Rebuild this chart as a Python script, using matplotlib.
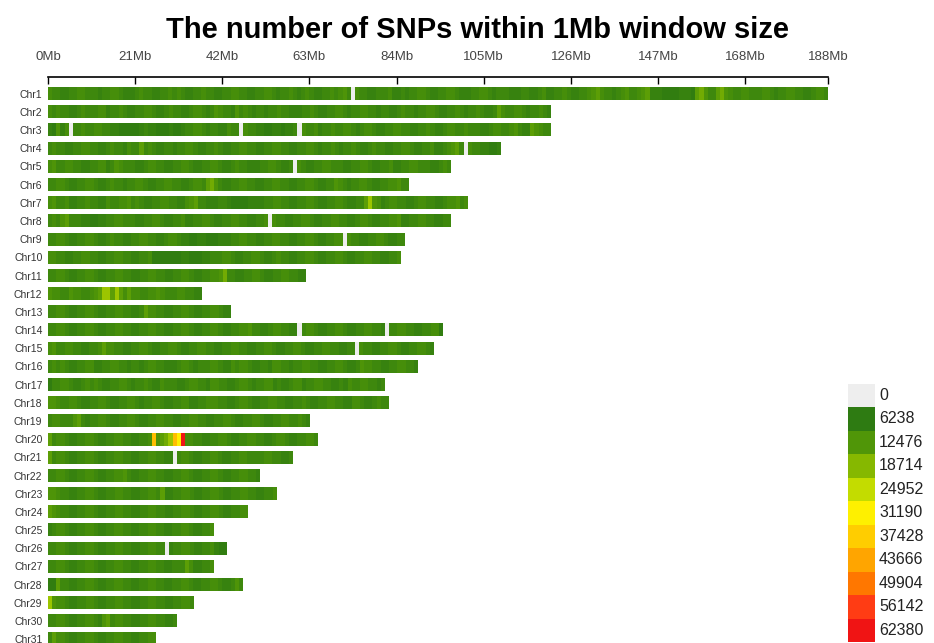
import numpy as np
import matplotlib.pyplot as plt
from matplotlib.colors import LinearSegmentedColormap, Normalize

plt.rcParams['font.family'] = ['Liberation Sans', 'DejaVu Sans']

chrom_names = ['Chr%d' % i for i in range(1, 32)]

# SNP count per class; one character per 1Mb window ('0' = no SNPs)
level_codes = '0123456789ABC'
level_snps = [0, 7000, 8200, 9500, 10800, 12300, 14000, 16500, 21000,
              31190, 40000, 50000, 62000]

window_levels = [
    "4332233443 3323344322 2343322334 3432233433 2233443322 3344323343 2343223343 4530433223 3342232334 4322334432 "
    "2233443233 3222332234 2233432233 4564332345 3345622211 1122216753 3675433443 3344323344 33223443",
    "4343322343 3344233432 2334432234 3322344323 5433253432 3323343322 2334322334 4323344332 3322343323 3443223343 "
    "2334322364 33443233432",
    "2152403343 3443322111 1123221112 1123344323 3224330433 2211221223 0433423343 3443234432 2334433223 3432234433 "
    "4333223443 34532265433",
    "3433223344 3322343324 3363432233 2334432233 4322334433 2233443322 3344323343 2334322343 3223344322 3342234563 "
    "043322112",
    "4533443322 3344235433 3223443322 3344322334 4322343322 2334432230 4322334433 3223344322 3342233443 3322343",
    "3344322334 4322343323 3443223344 3322344367 5322334433 2233443322 3344322335 4323344322 3344533",
    "4533422334 3322433445 3432233443 3224563322 2332111122 2233443322 3344322334 4322336854 2344332234 43322344534",
    "3435633322 1122334433 3223344322 3342233443 2233443322 3340433223 3443223344 3322344322 3344522334 4332233",
    "3344322334 4322343322 3344332234 4322112211 1222334433 2233443322 3344322334 4043322334 432233",
    "4433223344 3322334433 2233411111 1122111223 3344322334 4322343322 3344322334 4322334433 22334",
    "3344322334 4322334433 2233443322 3344322334 4573322334 432233443322",
    "5443354433 4568868646 4433445433 3443322",
    "3344322334 4322334433 2236443322 3344322334 4322",
    "3344322334 4322334433 2233443322 3344322334 4322334453 3223443322 0344322334 4322334433 2033443322 33441",
    "4533443322 3346443322 3344322334 4322334433 2233443322 3344322334 4322334433 2233043322 3344322334 432",
    "3434322334 4223344332 3323443322 2344323334 4322434432 2332443323 3443322334 4322354433 223344332",
    "1334432234 3432233443 2334322433 3223443324 4332234432 3344232234 4233443322 3243344332 3",
    "5543344322 3344322334 4323344322 3344223344 4332234432 2334433223 3432233443 3224432234 33",
    "3443335632 3344322334 4322334433 2233443322 3344322334 4322334433 432",
    "6344322334 4322334433 22334A5678 A9C4433223 3443223344 3322344322 33443",
    "6344322334 4322334433 2233443322 0344322334 4322334433 334433223",
    "3344322334 4322334453 2233443322 3344322334 4322334433 2",
    "5543322334 4322334433 2233443622 3344322334 4322334433 22334",
    "6543322334 4322334433 2233443322 3344322334 43223344",
    "2344322334 4322334433 2233443322 3344322334",
    "3344322334 4322334433 2233443302 3344322334 211",
    "3344322334 4322334433 2233443322 3336422334",
    "1163322334 4322334433 2233443322 3344322334 4322353",
    "8544322334 4322334433 2233443322 33443",
    "3344322334 4325634433 2233443322 3",
    "3644322334 4322334433 223344",
]

legend_breaks = [0, 6238, 12476, 18714, 24952, 31190, 37428, 43666, 49904, 56142, 62380]
legend_colors = ['#EEEEEE', '#2E7B12', '#509608', '#87B900', '#C3DC00', '#FFF000',
                 '#FFCD00', '#FFA500', '#FF7800', '#FF3C14', '#F01414']

tick_mb = [0, 21, 42, 63, 84, 105, 126, 147, 168, 188]

W, H = 934, 643
fig = plt.figure(figsize=(W / 100, H / 100), dpi=100)

cmap = LinearSegmentedColormap.from_list('snp', legend_colors[1:])
cmap.set_under(legend_colors[0])
norm = Normalize(vmin=legend_breaks[1], vmax=legend_breaks[-1])

ax = fig.add_axes([48 / W, 0, 780 / W, (H - 77) / H])
for i, s in enumerate(window_levels):
    codes = s.replace(' ', '')
    counts = np.array([level_snps[level_codes.index(c)] for c in codes], dtype=float)
    ax.imshow(counts[np.newaxis, :], extent=(0, len(counts), i + 0.35, i - 0.35),
              cmap=cmap, norm=norm, aspect='auto', interpolation='nearest')

ax.set_xlim(0, 188)
ax.set_ylim(30.21, -0.919)

ax.xaxis.tick_top()
ax.set_xticks(tick_mb, ['%dMb' % t for t in tick_mb])
ax.tick_params(axis='x', direction='in', length=5, width=1, pad=10,
               labelsize=9.5, labelcolor='#444444')
ax.set_yticks(range(len(chrom_names)), chrom_names)
ax.tick_params(axis='y', length=0, pad=4, labelsize=7.5, labelcolor='#333333')
for side in ['left', 'right', 'bottom']:
    ax.spines[side].set_visible(False)
ax.spines['top'].set_linewidth(1.2)

fig.text(478 / W, 1 - 38 / H, 'The number of SNPs within 1Mb window size',
         ha='center', va='baseline', fontsize=21, fontweight='bold')

# colour key
lax = fig.add_axes([848 / W, 1 / H, 27 / W, 258.5 / H])
lax.barh(range(len(legend_breaks)), 1, height=1,
         color=[cmap(norm(b)) for b in legend_breaks])
lax.set_xlim(0, 1)
lax.set_ylim(len(legend_breaks) - 0.5, -0.5)
lax.axis('off')
for j, b in enumerate(legend_breaks):
    lax.text(1 + 4 / 27, j, str(b), transform=lax.get_yaxis_transform(),
             ha='left', va='center', fontsize=11.5, color='#222222')

fig.savefig('out.png', dpi=100)
